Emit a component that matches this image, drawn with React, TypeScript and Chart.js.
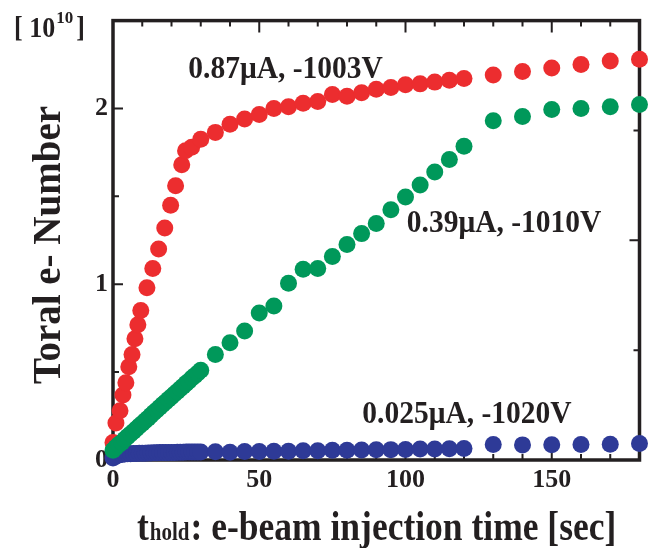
import { useEffect, useRef } from 'react';
import { Chart, registerables } from 'chart.js';

Chart.register(...registerables);

const FONT = '"Liberation Serif", "Times New Roman", serif';
const INK = '#231f20';

// 0.87 uA, -1003 V
const redTime = [0, 1, 2.4, 3.4, 4.4, 5.4, 6.5, 7.5, 8.5, 9.5, 11.6, 13.6, 15.6, 17.7, 19.7, 21.4, 23.5, 24.8, 26.9, 30,
  35, 40, 45, 50, 55, 60, 65, 70, 75, 80, 85, 90, 95, 100, 105, 110, 115, 120, 130, 140, 150, 160, 170, 180];
const redCount = [0.1, 0.21, 0.28, 0.37, 0.44, 0.53, 0.6, 0.69, 0.77, 0.85, 0.98, 1.09, 1.2, 1.32, 1.45, 1.56, 1.68, 1.76, 1.78, 1.825,
  1.864, 1.91, 1.94, 1.966, 2.0, 2.01, 2.03, 2.04, 2.08, 2.07, 2.09, 2.11, 2.12, 2.135, 2.14, 2.15, 2.16, 2.17, 2.19, 2.21, 2.23, 2.25, 2.27, 2.28];

// 0.39 uA, -1010 V
const greenTime = [0, 1, 2, 3, 4, 5, 6, 7, 8, 9, 10, 11, 12, 13, 14, 15, 16, 17, 18, 19, 20, 21, 22, 23, 24, 25, 26, 27, 28, 29, 30,
  35, 40, 45, 50, 55, 60, 65, 70, 75, 80, 85, 90, 95, 100, 105, 110, 115, 120, 130, 140, 150, 160, 170, 180];
const greenCount = [0.056, 0.072, 0.088, 0.1, 0.118, 0.133, 0.148, 0.162, 0.178, 0.194, 0.208, 0.223, 0.238, 0.255, 0.27, 0.284, 0.3, 0.316, 0.33, 0.345, 0.36,
  0.376, 0.39, 0.405, 0.42, 0.436, 0.45, 0.466, 0.48, 0.495, 0.51,
  0.6, 0.667, 0.734, 0.836, 0.876, 1.006, 1.085, 1.09, 1.158, 1.226, 1.288, 1.345, 1.424, 1.497, 1.565, 1.638, 1.71, 1.785,
  1.93, 1.955, 1.994, 2.0, 2.01, 2.023];

// 0.025 uA, -1020 V
const blueTime = [0, 1, 2, 3, 4, 5, 6, 7, 8, 9, 10, 11, 12, 13, 14, 15, 16, 17, 18, 19, 20, 21, 22, 23, 24, 25, 26, 27, 28, 29, 30,
  35, 40, 45, 50, 55, 60, 65, 70, 75, 80, 85, 90, 95, 100, 105, 110, 115, 120, 130, 140, 150, 160, 170, 180];
const blueCount = [0.012, 0.022, 0.028, 0.032, 0.034, 0.035, 0.036, 0.037, 0.037, 0.038, 0.039, 0.039, 0.04, 0.04, 0.041, 0.041, 0.042, 0.042, 0.042, 0.043, 0.043,
  0.043, 0.044, 0.044, 0.044, 0.045, 0.045, 0.045, 0.046, 0.046, 0.046,
  0.047, 0.044, 0.048, 0.049, 0.05, 0.05, 0.052, 0.053, 0.055, 0.055, 0.057, 0.058, 0.059, 0.06, 0.062, 0.063, 0.064, 0.066,
  0.088, 0.086, 0.087, 0.088, 0.089, 0.094];

const seriesLabels = ['0.39\u03bcA, -1010V', '0.87\u03bcA, -1003V', '0.025\u03bcA, -1020V'];
const seriesColors = ['#00985a', '#ec2d2f', '#2e3a97'];

const xLabelTicks = [0, 50, 100, 150];
const xTickMarks = [0, 10, 20, 30, 40, 50, 60, 70, 80, 90, 100, 110, 120, 130, 140, 150, 160, 170, 180];
const yLabelTicks = [0, 1, 2];
const yTickMarks = [0.5, 1, 1.5, 2];
const rightTickMarks = [1, 2, 3];

const toPoints = (xs: number[], ys: number[]) => xs.map((x, i) => ({ x, y: ys[i] }));

const drawStretched = (ctx: any, text: string, x: number, y: number, font: string, sy: number) => {
  ctx.save();
  ctx.translate(x, y);
  ctx.scale(1, sy);
  ctx.font = font;
  ctx.fillText(text, 0, 0);
  ctx.restore();
};

const framePlugin = {
  id: 'frameTicks',
  beforeDatasetsDraw(chart: any) {
    const { ctx, chartArea } = chart;
    const { left, right, top, bottom } = chartArea;
    const xs = chart.scales.x;
    const ys = chart.scales.y;
    const y2 = chart.scales.y2;
    ctx.save();
    ctx.strokeStyle = INK;
    ctx.lineWidth = 2;
    ctx.beginPath();
    xTickMarks.forEach((v) => {
      const px = xs.getPixelForValue(v);
      const len = v % 50 === 0 ? 12 : 6;
      ctx.moveTo(px, bottom);
      ctx.lineTo(px, bottom - len);
      ctx.moveTo(px, top);
      ctx.lineTo(px, top + len);
    });
    yTickMarks.forEach((v) => {
      const py = ys.getPixelForValue(v);
      const len = Number.isInteger(v) ? 10 : 6;
      ctx.moveTo(left, py);
      ctx.lineTo(left + len, py);
    });
    rightTickMarks.forEach((v) => {
      const py = y2.getPixelForValue(v);
      const len = v === 2 ? 10 : 6;
      ctx.moveTo(right, py);
      ctx.lineTo(right - len, py);
    });
    ctx.stroke();
    ctx.lineWidth = 3.5;
    ctx.strokeRect(left, top, right - left, bottom - top);
    ctx.restore();
  },
  afterDatasetsDraw(chart: any) {
    const { ctx } = chart;
    const xs = chart.scales.x;
    const ys = chart.scales.y;
    ctx.save();
    ctx.fillStyle = INK;
    ctx.textBaseline = 'alphabetic';
    // series annotations
    ctx.textAlign = 'center';
    const noteFont = `bold 29.5px ${FONT}`;
    const notes = [
      { text: seriesLabels[1], x: 59, y: 2.175 },
      { text: seriesLabels[0], x: 133.7, y: 1.3 },
      { text: seriesLabels[2], x: 121, y: 0.209 },
    ];
    notes.forEach((n) => drawStretched(ctx, n.text, xs.getPixelForValue(n.x), ys.getPixelForValue(n.y), noteFont, 1.1));

    // y axis title
    ctx.save();
    ctx.translate(60, 245);
    ctx.rotate(-Math.PI / 2);
    ctx.font = `bold 39px ${FONT}`;
    ctx.textAlign = 'center';
    ctx.fillText('Toral e- Number', 0, 0);
    ctx.restore();

    // unit [10^10]
    ctx.textAlign = 'left';
    let ux = 14;
    const unitFont = `bold 26px ${FONT}`;
    ctx.font = unitFont;
    drawStretched(ctx, '[ 10', ux, 37, unitFont, 1.12);
    ctx.font = unitFont;
    ux += ctx.measureText('[ 10').width + 1;
    ctx.font = `bold 17px ${FONT}`;
    ctx.fillText('10', ux, 23);
    ux += ctx.measureText('10').width + 3;
    drawStretched(ctx, ']', ux, 37, unitFont, 1.12);

    // x axis title
    let tx = 137;
    const big = `bold 35.5px ${FONT}`;
    const small = `bold 21px ${FONT}`;
    drawStretched(ctx, 't', tx, 540, big, 1.2);
    ctx.font = big;
    tx += ctx.measureText('t').width + 1;
    drawStretched(ctx, 'hold', tx, 540, small, 1.15);
    ctx.font = small;
    tx += ctx.measureText('hold').width + 1;
    drawStretched(ctx, ': e-beam injection time [sec]', tx, 540, big, 1.2);
    ctx.restore();
  },
};

export default function App() {
  const canvasRef = useRef<HTMLCanvasElement | null>(null);

  useEffect(() => {
    if (!canvasRef.current) return;
    const mk = (i: number, data: { x: number; y: number }[]) => ({
      label: seriesLabels[i],
      data,
      backgroundColor: seriesColors[i],
      borderColor: seriesColors[i],
      borderWidth: 0,
      pointRadius: 8.5,
      pointHoverRadius: 8.5,
      showLine: false,
      clip: false as any,
    });
    const chart = new Chart(canvasRef.current, {
      type: 'scatter',
      data: {
        datasets: [
          mk(0, toPoints(greenTime, greenCount)),
          mk(1, toPoints(redTime, redCount)),
          mk(2, toPoints(blueTime, blueCount)),
        ],
      },
      options: {
        responsive: false,
        animation: false,
        events: [],
        layout: { padding: { top: 17, right: 5, left: 0, bottom: 0 } },
        plugins: { legend: { display: false }, tooltip: { enabled: false } },
        scales: {
          x: {
            type: 'linear',
            min: 0,
            max: 180,
            grid: { display: false, drawTicks: false },
            border: { display: false },
            ticks: {
              color: INK,
              font: { family: FONT, size: 26, weight: 'bold' },
              padding: 5,
              maxRotation: 0,
              autoSkip: false,
            },
            afterBuildTicks: (s: any) => {
              s.ticks = xLabelTicks.map((v) => ({ value: v }));
            },
            afterFit: (s: any) => {
              s.height = 88;
            },
          },
          y: {
            type: 'linear',
            min: 0,
            max: 2.5,
            grid: { display: false, drawTicks: false },
            border: { display: false },
            ticks: {
              color: INK,
              font: { family: FONT, size: 26, weight: 'bold' },
              padding: 5,
              autoSkip: false,
            },
            afterBuildTicks: (s: any) => {
              s.ticks = yLabelTicks.map((v) => ({ value: v }));
            },
            afterFit: (s: any) => {
              s.width = 113;
            },
          },
          y2: {
            type: 'linear',
            display: false,
            min: 0,
            max: 4,
          },
        },
      } as any,
      plugins: [framePlugin],
    });
    return () => chart.destroy();
  }, []);

  return (
    <div style={{ position: 'absolute', left: 0, top: 0, width: 648, height: 548, background: '#fff' }}>
      <canvas ref={canvasRef} width={648} height={548} />
    </div>
  );
}
